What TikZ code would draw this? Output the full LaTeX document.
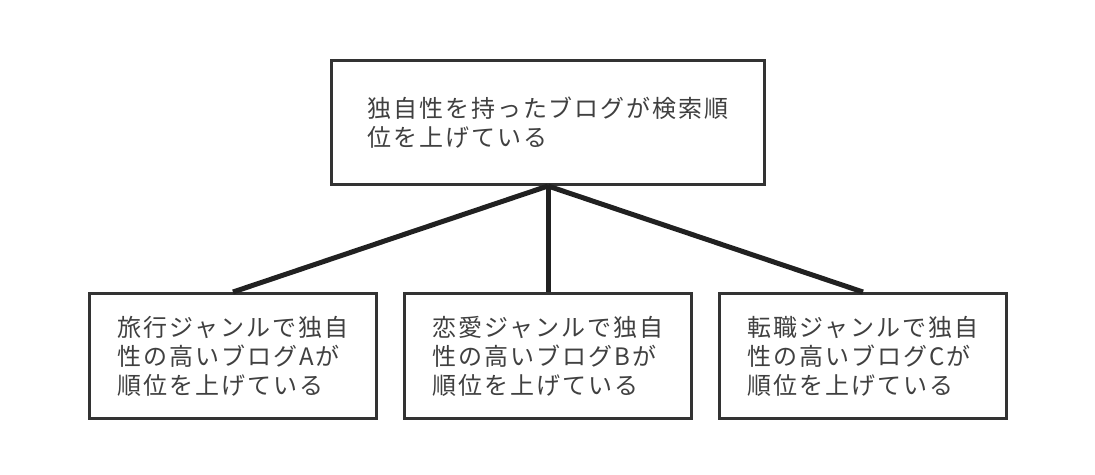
\documentclass[tikz,border=0pt]{standalone}
\usepackage{fontspec}
\setmainfont{Noto Sans CJK JP}[LetterSpace=8]
\usepackage{xcolor}
\usetikzlibrary{positioning}

\begin{document}
\begin{tikzpicture}
		[x=1pt,y=1pt,
		claim/.style={rectangle,draw=black!80,fill=white,line width=3pt,text=black!75,inner sep=0pt, minimum width=433pt, minimum height=124pt,align=left,font=\fontsize{24}{29}\selectfont},
		example/.style={rectangle,draw=black!80,fill=white,line width=3pt,text=black!75,inner sep=0pt, minimum width=287pt, minimum height=125pt,align=left,font=\fontsize{24}{29}\selectfont},
		link/.style={draw=black!87,line width=5pt}]
		\useasboundingbox (0,0) rectangle (1095,-474);
		\node [claim] (t1) at (548,-122.5) {独自性を持ったブログが検索順\\位を上げている};

		\node [example] (a2) [below=106pt of t1]{恋愛ジャンルで独自\\性の高いブログBが\\順位を上げている};
		\node [example] (a1) [left=25pt of a2]{旅行ジャンルで独自\\性の高いブログAが\\順位を上げている};
		\node [example] (a3) [right=25pt of a2]{転職ジャンルで独自\\性の高いブログCが\\順位を上げている};

		\draw [link] (t1.south) -- (a1.north);
		\draw [link] (t1.south) -- (a2.north);
		\draw [link] (t1.south) -- (a3.north);

	\end{tikzpicture}
\end{document}
